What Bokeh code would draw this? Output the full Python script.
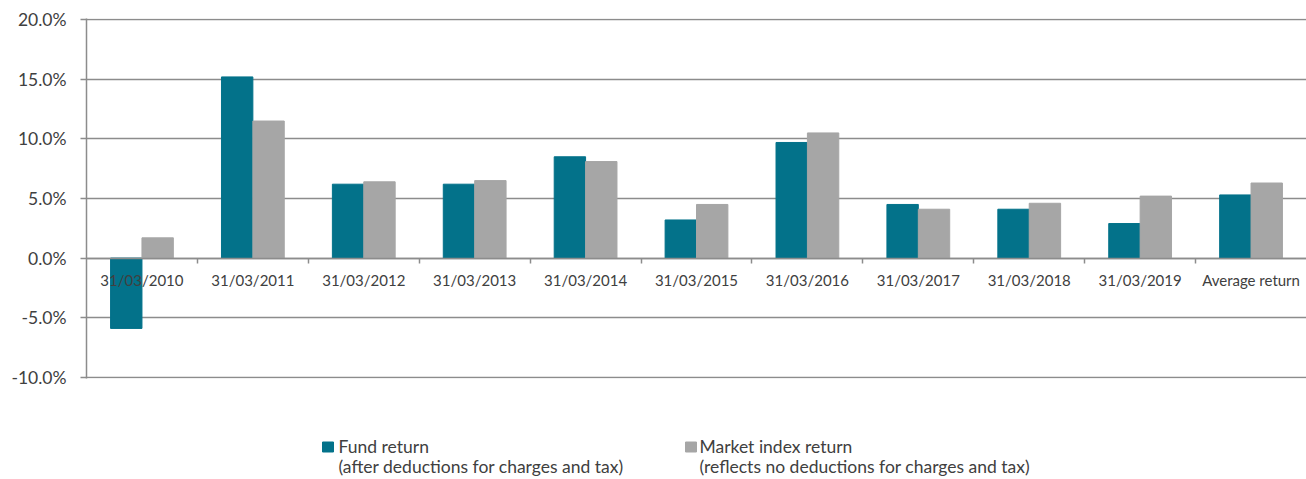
from bokeh.plotting import figure
from bokeh.layouts import column
from bokeh.models import FixedTicker, PrintfTickFormatter, ColumnDataSource
from bokeh.embed import file_html
from bokeh.resources import INLINE

categories = ["31/03/2010", "31/03/2011", "31/03/2012", "31/03/2013", "31/03/2014",
              "31/03/2015", "31/03/2016", "31/03/2017", "31/03/2018", "31/03/2019",
              "Average return"]
fund_return = [-5.9, 15.2, 6.2, 6.2, 8.5, 3.2, 9.7, 4.5, 4.1, 2.9, 5.3]
market_return = [1.7, 11.5, 6.4, 6.5, 8.1, 4.5, 10.5, 4.1, 4.6, 5.2, 6.3]
y_ticks = [-10, -5, 0, 5, 10, 15, 20]
series_names = ["Fund return", "Market index return"]
series_notes = ["(after deductions for charges and tax)",
                "(reflects no deductions for charges and tax)"]

FUND_COLOR = "#03728a"
MARKET_COLOR = "#a6a6a6"
GRID = "#8c8c8c"
TEXT = "#404040"
FONT = "Lato"

W = 1306
H_MAIN = 410
H_LEG = 69
n = len(categories)
centers = [i + 0.5 for i in range(n)]
bw = 0.283
src = ColumnDataSource(dict(
    xf=[c - bw / 2 for c in centers],
    xm=[c + bw / 2 for c in centers],
    fund=fund_return, market=market_return))

left = 86

p = figure(width=W, height=H_MAIN, x_range=(0, n), y_range=(-10.1, 20.1),
           output_backend="svg", toolbar_location=None,
           min_border_left=left, min_border_right=0, min_border_top=18, min_border_bottom=32)
p.outline_line_color = None

p.vbar(x="xf", top="fund", bottom=0, width=bw, source=src, color=FUND_COLOR)
p.vbar(x="xm", top="market", bottom=0, width=bw, source=src, color=MARKET_COLOR)

# y axis
p.yaxis.ticker = FixedTicker(ticks=y_ticks)
p.yaxis.formatter = PrintfTickFormatter(format="%.1f%%")
p.yaxis.major_label_text_font = FONT
p.yaxis.major_label_text_font_size = "17.5px"
p.yaxis.major_label_text_color = TEXT
p.yaxis.axis_line_color = GRID
p.yaxis.axis_line_width = 1.5
p.yaxis.major_tick_line_color = GRID
p.yaxis.major_tick_line_width = 1.5
p.yaxis.major_tick_out = 6
p.yaxis.major_tick_in = 0
p.yaxis.minor_tick_line_color = None
p.yaxis.major_label_standoff = 14

p.ygrid.ticker = FixedTicker(ticks=y_ticks)
p.ygrid.grid_line_color = GRID
p.ygrid.grid_line_width = 1.5
p.xgrid.grid_line_color = None

# x axis drawn at zero
xa = p.xaxis[0]
xa.fixed_location = 0
xa.ticker = FixedTicker(ticks=centers, minor_ticks=list(range(1, n)))
xa.major_label_overrides = {c: lab for c, lab in zip(centers, categories)}
xa.major_tick_line_color = None
xa.major_tick_out = 0
xa.major_tick_in = 0
xa.minor_tick_line_color = GRID
xa.minor_tick_line_width = 1.5
xa.minor_tick_out = 5
xa.minor_tick_in = 0
xa.axis_line_color = GRID
xa.axis_line_width = 1.5
xa.major_label_text_font = FONT
xa.major_label_text_font_size = "15px"
xa.major_label_text_color = TEXT
xa.major_label_standoff = 8

# legend strip below the chart (its frame is aligned with the chart's frame)
lg = figure(width=W, height=H_LEG, x_range=(left, W), y_range=(H_LEG, 0),
            x_axis_type=None, y_axis_type=None,
            output_backend="svg", toolbar_location=None,
            min_border_left=left, min_border_right=0, min_border_top=0, min_border_bottom=0)
lg.grid.visible = False
lg.outline_line_color = None
leg_src = ColumnDataSource(dict(
    sq_x=[327.5, 690.5], sq_y=[36.5, 36.5], color=[FUND_COLOR, MARKET_COLOR],
    tx=[338, 699], ty1=[36, 36], ty2=[56, 56],
    name=series_names, note=series_notes))
lg.rect(x="sq_x", y="sq_y", width=11, height=10, color="color", source=leg_src)
lg.text(x="tx", y="ty1", text="name", source=leg_src, text_color=TEXT,
        text_font_size="17.5px", text_baseline="middle", text_font={"value": FONT})
lg.text(x="tx", y="ty2", text="note", source=leg_src, text_color=TEXT,
        text_font_size="17.5px", text_baseline="middle", text_font={"value": FONT})

layout = column(p, lg, spacing=0)
open("out.html", "w").write(file_html(layout, INLINE))
